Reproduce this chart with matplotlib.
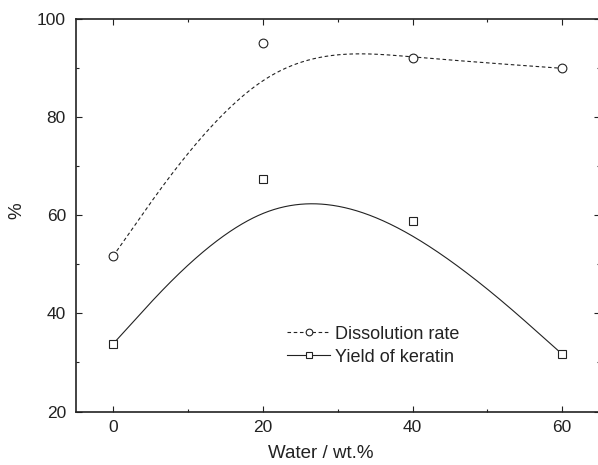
"""
Dissolution rate and keratin yield versus water content, with
B-spline connecting curves through the measured points.
"""

import numpy as np
import matplotlib
matplotlib.use("Agg")
import matplotlib.pyplot as plt
from matplotlib.ticker import MultipleLocator

water = [0, 20, 40, 60]
dissolution_rate = [51.7, 95.2, 92.2, 90.0]
keratin_yield = [33.8, 67.4, 58.9, 31.7]

INK = "#222222"

plt.rcParams["font.family"] = ["Liberation Sans", "DejaVu Sans"]
plt.rcParams["text.color"] = INK
plt.rcParams["axes.labelcolor"] = INK
plt.rcParams["xtick.color"] = INK
plt.rcParams["ytick.color"] = INK


def bspline(xs, ys, n=200):
    """Uniform cubic B-spline using the points as control polygon
    (end points tripled so the curve starts and ends on them)."""
    px = np.r_[[xs[0]] * 2, xs, [xs[-1]] * 2].astype(float)
    py = np.r_[[ys[0]] * 2, ys, [ys[-1]] * 2].astype(float)
    out_x, out_y = [], []
    for i in range(len(px) - 3):
        t = np.linspace(0, 1, n)
        b0 = (1 - t) ** 3 / 6
        b1 = (3 * t**3 - 6 * t**2 + 4) / 6
        b2 = (-3 * t**3 + 3 * t**2 + 3 * t + 1) / 6
        b3 = t**3 / 6
        out_x.append(b0 * px[i] + b1 * px[i + 1] + b2 * px[i + 2] + b3 * px[i + 3])
        out_y.append(b0 * py[i] + b1 * py[i + 1] + b2 * py[i + 2] + b3 * py[i + 3])
    return np.concatenate(out_x), np.concatenate(out_y)


fig = plt.figure(figsize=(5.98, 4.65), dpi=100)
ax = fig.add_axes([0.1266, 0.115, 0.8761, 0.8435])

dash = (0, (3.2, 2.4))

# fitted curves
cx, cy = bspline(water, dissolution_rate)
ax.plot(cx, cy, color=INK, lw=0.8, ls=dash, zorder=2)
cx, cy = bspline(water, keratin_yield)
ax.plot(cx, cy, color=INK, lw=0.8, zorder=2)

# measured points
ax.plot(water, dissolution_rate, ls="none", marker="o", ms=6.3,
        mfc="white", mec=INK, mew=0.8, zorder=3)
ax.plot(water, keratin_yield, ls="none", marker="s", ms=5.3,
        mfc="white", mec=INK, mew=0.8, zorder=3)

# legend handles (line + marker together)
h1, = ax.plot([], [], color=INK, lw=0.8, ls=dash, marker="o", ms=4.8,
              mfc="white", mec=INK, mew=0.8)
h2, = ax.plot([], [], color=INK, lw=0.8, marker="s", ms=4,
              mfc="white", mec=INK, mew=0.8)
ax.legend([h1, h2], ["Dissolution rate", "Yield of keratin"],
          loc="center left", bbox_to_anchor=(0.403, 0.168),
          frameon=False, fontsize=13, handlelength=2.4,
          handletextpad=0.25, labelspacing=0.32, borderpad=0,
          borderaxespad=0)

ax.set_xlim(-5, 65)
ax.set_ylim(20, 100)
ax.xaxis.set_major_locator(MultipleLocator(20))
ax.xaxis.set_minor_locator(MultipleLocator(10))
ax.yaxis.set_major_locator(MultipleLocator(20))
ax.yaxis.set_minor_locator(MultipleLocator(10))

ax.tick_params(which="both", direction="in", top=True, right=True,
               width=0.8, labelsize=12.5)
ax.tick_params(which="major", length=4)
ax.tick_params(which="minor", length=2)
ax.tick_params(axis="x", pad=6)
ax.tick_params(axis="y", pad=7)
for s in ax.spines.values():
    s.set_linewidth(1.2)
    s.set_color(INK)

ax.set_xlabel("Water / wt.%", fontsize=13.5)
ax.set_ylabel("%", fontsize=13.5)
ax.xaxis.set_label_coords(0.468, -0.085)
ax.yaxis.set_label_coords(-0.097, 0.511)

fig.savefig("out.png", dpi=100, facecolor="white")
plt.close(fig)
